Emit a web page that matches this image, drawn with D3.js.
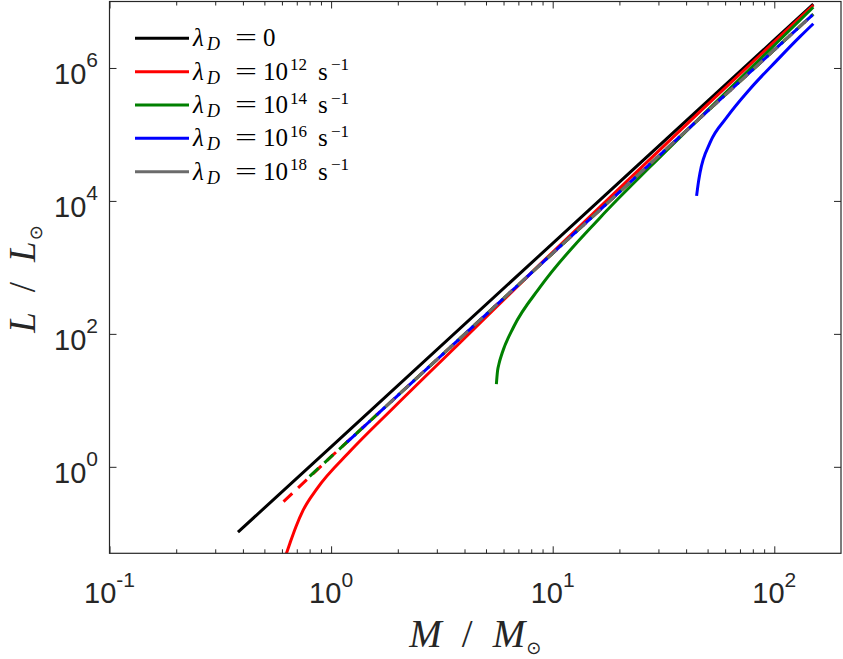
<!DOCTYPE html>
<html>
<head>
<meta charset="utf-8">
<script src="https://cdn.jsdelivr.net/npm/d3@7"></script>
<style>
body { margin: 0; background: #fff; }
svg { display: block; }
</style>
</head>
<body>
<script>
'use strict';

// luminosity vs mass
var blackM = [0.38, 1, 10, 100, 150];
var blackL = [0.104, 2.0, 2300, 2.64e6, 9.1e6];

var redM = [0.622, 0.652, 0.694, 0.747, 0.864, 1.217, 1.903, 3.816, 8.76, 24.8, 46.2, 150];
var redL = [0.0449, 0.0708, 0.1256, 0.221, 0.471, 1.71, 7.61, 73.6, 1110, 3.07e4, 2.20e5, 8.8e6];

var greenM = [5.57, 5.64, 5.72, 5.91, 6.67, 8.80, 16.4, 27.6, 48.9, 150];
var greenL = [17.5, 28, 35.2, 51, 128, 512, 5650, 3.29e4, 2.15e5, 8.2e6];

var blueM = [44.6, 45.5, 46.2, 51.3, 61.0, 77.7, 102.5, 130.6, 150];
var blueL = [1.19e4, 1.95e4, 2.64e4, 7.52e4, 1.80e5, 4.83e5, 1.29e6, 2.96e6, 4.63e6];

// dashed branches
var redDashM = [0.61, 1, 10, 100, 150];
var redDashL = [0.30, 1.42, 1630, 1.87e6, 6.45e6];
var greenDashM = [0.80, 1, 10, 100, 150];
var greenDashL = [0.72, 1.42, 1630, 1.87e6, 6.45e6];
var blueDashM = [1.18, 10, 100, 150];
var blueDashL = [2.35, 1630, 1.87e6, 6.45e6];
var grayDashM = [1.76, 10, 100, 150];
var grayDashL = [8.0, 1630, 1.87e6, 6.45e6];

var legendExp = ["", "12", "14", "16", "18"];
var legendColors = ["#000000", "#ff0000", "#008000", "#0000ff", "#6b6b6b"];

var xTicks = [0.1, 1, 10, 100];
var xTickExp = ["-1", "0", "1", "2"];
var yTicks = [1, 100, 1e4, 1e6];
var yTickExp = ["0", "2", "4", "6"];

var width = 843, height = 659;
var plot = {left: 109.5, right: 841, top: 1.5, bottom: 553.3};
var axisColor = "#262626";

var svg = d3.select("body").append("svg")
    .attr("width", width)
    .attr("height", height);

var x = d3.scaleLog().domain([0.1, 200]).range([plot.left, plot.right]);
var y = d3.scaleLog().domain([0.05, 1e7]).range([plot.bottom, plot.top]);

svg.append("clipPath").attr("id", "clip")
    .append("rect")
    .attr("x", plot.left).attr("y", plot.top)
    .attr("width", plot.right - plot.left)
    .attr("height", plot.bottom - plot.top);

// minor x ticks 2..9 of each decade
var xMinor = [];
[0.1, 1, 10, 100].forEach(function(dec) {
    for (var k = 2; k <= 9; k++) {
        if (k * dec < 200) xMinor.push(k * dec);
    }
});

function styleAxis(g) {
    g.select(".domain").remove();
    g.selectAll("text").remove();
    g.selectAll("line").attr("stroke", axisColor).attr("stroke-width", 1);
}

// ticks pointing inwards on all four sides
svg.append("g").attr("transform", "translate(0," + plot.bottom + ")")
    .call(d3.axisBottom(x).tickValues(xTicks).tickSize(-7).tickFormat("")).call(styleAxis);
svg.append("g").attr("transform", "translate(0," + plot.bottom + ")")
    .call(d3.axisBottom(x).tickValues(xMinor).tickSize(-4).tickFormat("")).call(styleAxis);
svg.append("g").attr("transform", "translate(0," + plot.top + ")")
    .call(d3.axisTop(x).tickValues(xTicks).tickSize(-7).tickFormat("")).call(styleAxis);
svg.append("g").attr("transform", "translate(0," + plot.top + ")")
    .call(d3.axisTop(x).tickValues(xMinor).tickSize(-4).tickFormat("")).call(styleAxis);
svg.append("g").attr("transform", "translate(" + plot.left + ",0)")
    .call(d3.axisLeft(y).tickValues(yTicks).tickSize(-7).tickFormat("")).call(styleAxis);
svg.append("g").attr("transform", "translate(" + plot.right + ",0)")
    .call(d3.axisRight(y).tickValues(yTicks).tickSize(-7).tickFormat("")).call(styleAxis);

// tick labels 10^n
svg.append("g").selectAll("text")
    .data(xTicks).enter().append("text")
    .attr("x", function(d) { return x(d); })
    .attr("y", plot.bottom + 50)
    .attr("text-anchor", "middle")
    .attr("font-family", "'Liberation Sans', Arial, sans-serif")
    .attr("font-size", 29)
    .attr("fill", axisColor)
    .each(function(d, i) {
        var t = d3.select(this);
        t.append("tspan").text("10");
        t.append("tspan").attr("dy", -16).attr("font-size", 21).text(xTickExp[i]);
    });

svg.append("g").selectAll("text")
    .data(yTicks).enter().append("text")
    .attr("x", plot.left - 11.5)
    .attr("y", function(d) { return y(d) + 15.7; })
    .attr("text-anchor", "end")
    .attr("font-family", "'Liberation Sans', Arial, sans-serif")
    .attr("font-size", 29)
    .attr("fill", axisColor)
    .each(function(d, i) {
        var t = d3.select(this);
        t.append("tspan").text("10");
        t.append("tspan").attr("dy", -16.5).attr("font-size", 21).text(yTickExp[i]);
    });

// curves
var line = d3.line()
    .x(function(d) { return x(d[0]); })
    .y(function(d) { return y(d[1]); });
var smooth = d3.line()
    .curve(d3.curveMonotoneX)
    .x(function(d) { return x(d[0]); })
    .y(function(d) { return y(d[1]); });

function pairs(ms, ls) { return ms.map(function(m, i) { return [m, ls[i]]; }); }

var curves = svg.append("g").attr("clip-path", "url(#clip)")
    .attr("fill", "none").attr("stroke-width", 3);

var solids = [
    {pts: pairs(blackM, blackL), color: legendColors[0], gen: line},
    {pts: pairs(redM, redL), color: legendColors[1], gen: smooth},
    {pts: pairs(greenM, greenL), color: legendColors[2], gen: smooth},
    {pts: pairs(blueM, blueL), color: legendColors[3], gen: smooth}
];
var dashes = [
    {pts: pairs(redDashM, redDashL), color: legendColors[1]},
    {pts: pairs(greenDashM, greenDashL), color: legendColors[2]},
    {pts: pairs(blueDashM, blueDashL), color: legendColors[3]},
    {pts: pairs(grayDashM, grayDashL), color: legendColors[4]}
];

solids.forEach(function(s) {
    curves.append("path").attr("d", s.gen(s.pts)).attr("stroke", s.color);
});
dashes.forEach(function(s) {
    curves.append("path").attr("d", line(s.pts)).attr("stroke", s.color)
        .attr("stroke-dasharray", "12,8");
});

// box
svg.append("rect")
    .attr("x", plot.left).attr("y", plot.top)
    .attr("width", plot.right - plot.left)
    .attr("height", plot.bottom - plot.top)
    .attr("fill", "none").attr("stroke", axisColor).attr("stroke-width", 1.2);

// legend (no box)
var serif = "'Liberation Serif', 'Times New Roman', serif";
var legend = svg.append("g").attr("font-family", serif).attr("fill", "#000");
legendExp.forEach(function(e, i) {
    var ly = 38.3 + i * 33.35;
    legend.append("line")
        .attr("x1", 135).attr("x2", 189)
        .attr("y1", ly).attr("y2", ly)
        .attr("stroke", legendColors[i]).attr("stroke-width", 3);
    var t = legend.append("text").attr("y", ly + 8).attr("font-size", 25);
    t.append("tspan").attr("x", 193).attr("font-style", "italic").text("λ");
    t.append("tspan").attr("x", 207).attr("dy", 4).attr("font-size", 18)
        .attr("font-style", "italic").text("D");
    t.append("tspan").attr("x", 235).attr("dy", -4)
        .attr("textLength", 22).attr("lengthAdjust", "spacingAndGlyphs").text("=");
    if (e === "") {
        t.append("tspan").attr("x", 263).text("0");
    } else {
        t.append("tspan").attr("x", 263).text("10");
        t.append("tspan").attr("x", 290).attr("dy", -9.5).attr("font-size", 17).text(e);
        t.append("tspan").attr("x", 318).attr("dy", 9.5).text("s");
        t.append("tspan").attr("x", 331).attr("dy", -9.5).attr("font-size", 17).text("−1");
    }
});

// axis labels
var xl = svg.append("text")
    .attr("x", (plot.left + plot.right) / 2).attr("y", 647)
    .attr("text-anchor", "middle")
    .attr("font-family", serif).attr("font-size", 39).attr("fill", axisColor);
xl.append("tspan").attr("font-style", "italic").text("M");
xl.append("tspan").attr("dx", 20).text("/");
xl.append("tspan").attr("dx", 20).attr("font-style", "italic").text("M");
xl.append("tspan").attr("dx", 1).attr("dy", 7).attr("font-size", 18)
    .attr("font-family", "'DejaVu Sans', sans-serif").text("⊙");

var yl = svg.append("text")
    .attr("transform", "translate(35,279) rotate(-90)")
    .attr("text-anchor", "middle")
    .attr("font-family", serif).attr("font-size", 37).attr("fill", axisColor);
yl.append("tspan").attr("font-style", "italic").text("L");
yl.append("tspan").attr("dx", 20).text("/");
yl.append("tspan").attr("dx", 20).attr("font-style", "italic").text("L");
yl.append("tspan").attr("dx", 1).attr("dy", 7).attr("font-size", 18)
    .attr("font-family", "'DejaVu Sans', sans-serif").text("⊙");
</script>
</body>
</html>
